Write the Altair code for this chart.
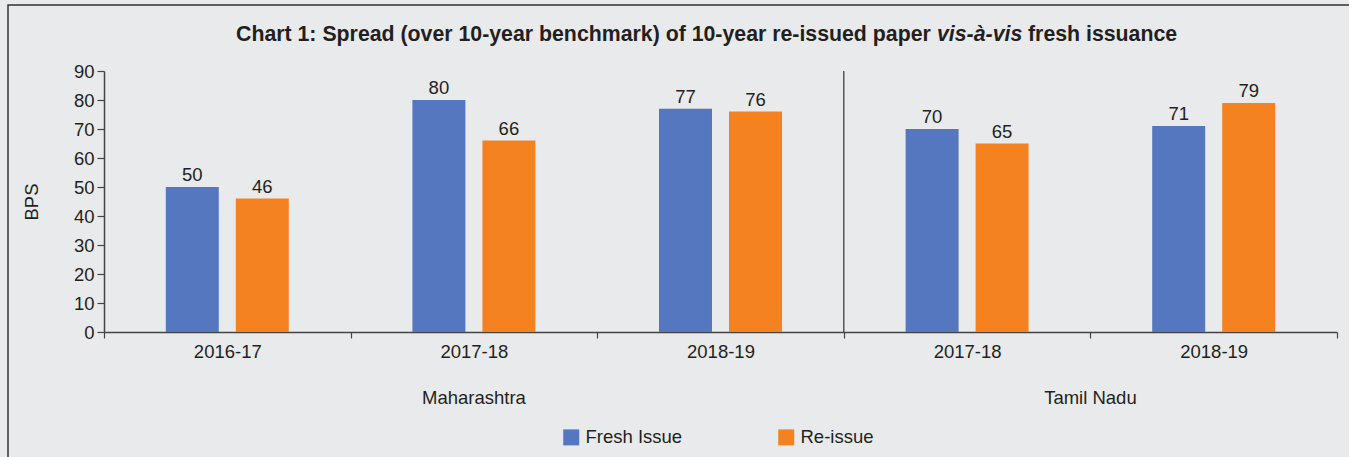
import altair as alt
import pandas as pd

# ---- data ----
states = ["Maharashtra", "Maharashtra", "Maharashtra", "Tamil Nadu", "Tamil Nadu"]
years = ["2016-17", "2017-18", "2018-19", "2017-18", "2018-19"]
fresh = [50, 80, 77, 70, 71]
reissue = [46, 66, 76, 65, 79]
series = ["Fresh Issue", "Re-issue"]
colors = ["#5577bf", "#f58220"]
title_parts = ["Chart 1: Spread (over 10-year benchmark) of 10-year re-issued paper",
               "vis-à-vis", "fresh issuance"]

keys = [f"{s}|{y}" for s, y in zip(states, years)]
rows = []
for k, f, r in zip(keys, fresh, reissue):
    rows.append({"key": k, "series": series[0], "value": f})
    rows.append({"key": k, "series": series[1], "value": r})
df = pd.DataFrame(rows)

W, H = 1233, 261
FS = 18.5
TS = 21.3
FONT = "Liberation Sans"
TXT = "#231f20"
AX = "#444444"

x_scale = alt.Scale(domain=keys, paddingInner=0, paddingOuter=0)
xoff_scale = alt.Scale(domain=series, paddingInner=0.243, paddingOuter=0.883)
x_axis = alt.Axis(tickBand="extent", labelExpr="split(datum.value, '|')[1]", labelAngle=0,
                  labelFontSize=FS, labelFont=FONT, labelColor=TXT, labelPadding=4,
                  tickSize=6, tickColor=AX, domainColor=AX, domainWidth=1.5, tickWidth=1.2,
                  title=None)
y_axis = alt.Axis(values=list(range(0, 91, 10)), grid=False, tickSize=7, tickColor=AX,
                  domainColor=AX, domainWidth=1.5, tickWidth=1.2,
                  labelFontSize=FS, labelFont=FONT, labelColor=TXT, labelPadding=3,
                  title="BPS", titleFontSize=FS, titleFont=FONT, titleFontWeight="normal",
                  titleColor=TXT, titleX=-73, titleY=H / 2, titleAngle=270,
                  titleAlign="center", titleBaseline="middle")

def xenc(band=0.5):
    return alt.X("key:N", scale=x_scale, axis=x_axis, bandPosition=band)

yenc = alt.Y("value:Q", scale=alt.Scale(domain=[0, 90]), axis=y_axis)

bars = alt.Chart(df).mark_bar().encode(
    x=xenc(),
    xOffset=alt.XOffset("series:N", scale=xoff_scale),
    y=yenc,
    color=alt.Color("series:N", scale=alt.Scale(domain=series, range=colors),
                    legend=alt.Legend(orient="none", legendX=458, legendY=357,
                                      direction="horizontal", title=None,
                                      symbolType="square", symbolSize=256,
                                      symbolStrokeWidth=0, labelFontSize=FS,
                                      labelFont=FONT, labelColor=TXT,
                                      columnPadding=94, labelOffset=5)),
)

labels = alt.Chart(df).mark_text(dy=-6, baseline="alphabetic", fontSize=FS, font=FONT,
                                 color=TXT).encode(
    x=xenc(),
    xOffset=alt.XOffset("series:N", scale=xoff_scale),
    y=yenc,
    text="value:Q",
)

sep = alt.Chart(pd.DataFrame({"key": [keys[3]]})).mark_rule(color="#333333", strokeWidth=1.2).encode(
    x=xenc(0), y=alt.value(0), y2=alt.value(H)
)

grp1 = alt.Chart(pd.DataFrame({"key": [keys[1]], "lab": [states[0]]})).mark_text(
    fontSize=FS, font=FONT, color=TXT, baseline="middle").encode(
    x=xenc(0.5), y=alt.value(H + 66), text="lab:N")
grp2 = alt.Chart(pd.DataFrame({"key": [keys[4]], "lab": [states[3]]})).mark_text(
    fontSize=FS, font=FONT, color=TXT, baseline="middle").encode(
    x=xenc(0), y=alt.value(H + 66), text="lab:N")

def title_text(i, xpos, italic=False):
    return alt.Chart(pd.DataFrame({"t": [title_parts[i]]})).mark_text(
        fontSize=TS, font=FONT, fontWeight="bold", fontStyle="italic" if italic else "normal",
        color=TXT, align="left", baseline="alphabetic").encode(
        x=alt.value(xpos), y=alt.value(-30), text="t:N")

t1 = title_text(0, 132)
t2 = title_text(1, 833, True)
t3 = title_text(2, 924)

border = alt.Chart(pd.DataFrame({"a": [0]})).mark_rect(
    fill="transparent", stroke="#333333", strokeWidth=1.5).encode(
    x=alt.value(-96), x2=alt.value(W + 200), y=alt.value(-66), y2=alt.value(H + 300))

chart = alt.layer(border, bars, labels, sep, grp1, grp2, t1, t2, t3).properties(
    width=W, height=H,
    padding={"left": 104, "top": 71, "right": 12, "bottom": 125},
    autosize=alt.AutoSizeParams(type="none"),
    background="#e9eaec",
).configure_view(strokeWidth=0)

chart.save("out.html", embed_options={"renderer": "svg", "actions": False})
